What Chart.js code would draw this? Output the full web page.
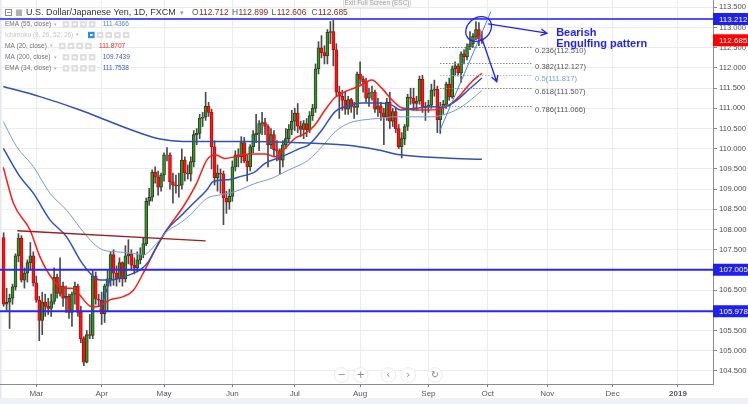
<!DOCTYPE html>
<html>
<head>
<meta charset="utf-8">
<title>USD/JPY 1D</title>
<script src="https://cdn.jsdelivr.net/npm/chart.js"></script>
<style>
  html, body { margin: 0; padding: 0; background: #fff; }
  canvas { display: block; }
</style>
</head>
<body>
<canvas id="chart" width="748" height="404"></canvas>
<script>
"use strict";

// bar index 0 = 1 Mar 2018, first visible candle is 14 Feb 2018
const firstBar = -11;

const opens = [
  107.80, 106.15, 106.20, 106.30, 106.58, 107.35, 107.79, 106.75, 106.92, 107.18,
  107.35, 106.68, 106.25, 105.75, 106.20, 106.10, 106.05, 106.22, 106.82, 106.42,
  106.60, 106.30, 106.35, 105.95, 106.40, 106.60, 105.95, 105.30, 104.72, 105.40,
  105.38, 106.85, 106.28, 106.25, 105.92, 106.60, 106.78, 107.38, 106.92, 106.78,
  107.18, 106.78, 107.35, 107.40, 107.12, 107.05, 107.25, 107.38, 107.65, 108.70,
  108.80, 109.42, 109.30, 109.05, 109.35, 109.85, 109.85, 109.18, 109.10, 109.08,
  109.10, 109.72, 109.40, 109.38, 109.68, 110.35, 110.38, 110.76, 110.78, 111.05,
  110.90, 110.05, 109.28, 109.40, 109.38, 108.78, 108.68, 108.82, 109.55, 109.85,
  109.80, 110.15, 109.70, 109.55, 110.05, 110.35, 110.38, 110.62, 110.65, 110.55,
  110.10, 110.35, 109.98, 109.95, 109.72, 110.10, 110.25, 110.48, 110.68, 110.88,
  110.56, 110.48, 110.62, 110.47, 110.82, 111.00, 111.98, 112.50, 112.38, 112.30,
  112.88, 112.90, 112.45, 111.40, 111.30, 111.20, 110.98, 111.22, 111.05, 111.02,
  111.85, 111.72, 111.66, 111.25, 111.38, 111.40, 110.98, 111.06, 110.88, 110.78,
  111.15, 110.68, 110.92, 110.50, 110.05, 110.25, 110.55, 111.28, 111.25, 111.12,
  111.18, 111.72, 111.02, 111.05, 111.08, 111.45, 111.48, 110.72, 111.02, 111.10,
  111.60, 111.28, 111.98, 112.05, 111.88, 112.35, 112.28, 112.52, 112.60, 112.78,
  112.95, 112.712
];
const highs = [
  107.92, 106.55, 106.40, 106.65, 107.40, 107.90, 107.85, 107.05, 107.25, 107.68,
  107.45, 106.85, 106.35, 106.45, 106.40, 106.30, 106.40, 107.05, 106.90, 107.30,
  106.70, 106.60, 106.40, 106.45, 106.70, 106.65, 106.10, 105.35, 105.50, 105.90,
  107.00, 106.95, 106.40, 106.45, 106.65, 107.00, 107.45, 107.50, 107.10, 107.30,
  107.20, 107.60, 107.75, 107.50, 107.30, 107.45, 107.55, 107.80, 108.78, 109.02,
  109.48, 109.55, 109.45, 109.40, 109.90, 110.03, 109.90, 109.40, 109.35, 109.40,
  110.00, 109.80, 109.60, 109.80, 110.45, 110.50, 110.85, 110.90, 111.40, 111.15,
  110.98, 110.20, 109.60, 109.50, 109.45, 108.95, 109.00, 109.70, 109.95, 110.00,
  110.30, 110.28, 109.85, 110.10, 110.45, 110.85, 110.70, 110.90, 110.75, 110.60,
  110.50, 110.45, 110.20, 110.00, 110.20, 110.50, 110.60, 110.95, 111.00, 111.12,
  110.68, 110.70, 110.75, 110.92, 111.10, 112.10, 112.65, 112.80, 112.55, 112.95,
  113.15, 113.18, 112.60, 111.55, 111.45, 111.40, 111.30, 111.25, 111.15, 111.90,
  112.15, 111.80, 111.75, 111.50, 111.55, 111.45, 111.25, 111.15, 111.00, 111.25,
  111.40, 111.00, 111.00, 110.60, 110.40, 110.60, 111.35, 111.50, 111.50, 111.30,
  111.80, 111.82, 111.15, 111.20, 111.60, 111.70, 111.55, 111.15, 111.20, 111.65,
  111.75, 112.05, 112.15, 112.10, 112.40, 112.45, 112.60, 112.90, 112.85, 113.15,
  113.12, 112.899
];
const lows = [
  106.10, 106.00, 105.55, 106.15, 106.50, 107.20, 106.70, 106.55, 106.70, 107.00,
  106.60, 106.20, 105.25, 105.40, 105.85, 105.90, 105.85, 106.15, 106.30, 106.35,
  106.10, 105.95, 105.80, 105.60, 106.15, 105.85, 105.20, 104.63, 104.70, 105.30,
  105.30, 106.15, 106.10, 105.65, 105.70, 105.98, 106.60, 106.62, 106.60, 106.70,
  106.60, 106.70, 107.15, 107.00, 106.90, 106.95, 107.15, 107.30, 107.60, 108.60,
  108.70, 109.15, 108.85, 108.95, 109.20, 109.70, 109.00, 108.65, 108.90, 108.80,
  109.00, 109.20, 109.25, 109.20, 109.55, 110.10, 110.25, 110.55, 110.70, 110.80,
  109.50, 109.10, 108.95, 108.90, 108.12, 108.40, 108.50, 108.70, 109.45, 109.55,
  109.65, 109.65, 109.20, 109.45, 109.90, 110.15, 109.95, 110.35, 110.35, 109.55,
  110.00, 109.80, 109.70, 109.37, 109.55, 110.00, 110.15, 110.35, 110.45, 110.40,
  110.30, 110.25, 110.30, 110.40, 110.70, 110.90, 111.85, 112.25, 112.10, 112.10,
  112.60, 112.05, 111.30, 110.75, 110.95, 110.85, 110.85, 110.90, 110.75, 110.85,
  111.60, 111.40, 111.15, 111.05, 111.20, 110.90, 110.80, 110.70, 110.10, 110.70,
  110.50, 110.55, 110.40, 110.00, 109.77, 110.10, 110.45, 111.10, 110.95, 110.95,
  111.10, 110.90, 110.70, 110.90, 111.00, 111.30, 110.40, 110.38, 110.85, 111.00,
  111.20, 111.25, 111.80, 111.80, 111.65, 112.10, 112.20, 112.45, 112.50, 112.70,
  112.55, 112.606
];
const closes = [
  106.15, 106.20, 106.30, 106.58, 107.35, 107.79, 106.75, 106.92, 107.18, 107.35,
  106.68, 106.25, 105.75, 106.20, 106.10, 106.05, 106.22, 106.82, 106.42, 106.60,
  106.30, 106.35, 105.95, 106.40, 106.60, 105.95, 105.30, 104.72, 105.40, 105.38,
  106.85, 106.28, 106.25, 105.92, 106.60, 106.78, 107.38, 106.92, 106.78, 107.18,
  106.78, 107.35, 107.40, 107.12, 107.05, 107.25, 107.38, 107.65, 108.70, 108.80,
  109.42, 109.30, 109.05, 109.35, 109.85, 109.85, 109.18, 109.10, 109.08, 109.10,
  109.72, 109.40, 109.38, 109.68, 110.35, 110.38, 110.76, 110.78, 111.05, 110.90,
  110.05, 109.28, 109.40, 109.38, 108.78, 108.68, 108.82, 109.55, 109.85, 109.80,
  110.15, 109.70, 109.55, 110.05, 110.35, 110.38, 110.62, 110.65, 110.55, 110.10,
  110.35, 109.98, 109.95, 109.72, 110.10, 110.25, 110.48, 110.68, 110.88, 110.56,
  110.48, 110.62, 110.47, 110.82, 111.00, 111.98, 112.50, 112.38, 112.30, 112.88,
  112.90, 112.45, 111.40, 111.30, 111.20, 110.98, 111.22, 111.05, 111.02, 111.85,
  111.72, 111.66, 111.25, 111.38, 111.40, 110.98, 111.06, 110.88, 110.78, 111.15,
  110.68, 110.92, 110.50, 110.05, 110.25, 110.55, 111.28, 111.25, 111.12, 111.18,
  111.72, 111.02, 111.05, 111.08, 111.45, 111.48, 110.72, 111.02, 111.10, 111.60,
  111.28, 111.98, 112.05, 111.88, 112.35, 112.28, 112.52, 112.60, 112.78, 112.95,
  112.72, 112.685
];

// moving averages (bar index, value)
const ma20Bars = [-11.1, -7.7, -2.1, 1.2, 5.7, 9.1, 11.9, 14.1, 18.7, 21.4, 24.8, 29.3, 32.7, 36.0, 39.4, 43.9,
  49.5, 54.0, 57.4, 60.2, 63.5, 66.9, 71.4, 77.0, 80.4, 83.7, 87.1, 90.5, 93.8, 97.2, 100.6, 103.9,
  108.4, 112.9, 116.3, 119.7, 122.5, 124.1, 127.5, 132.0, 136.5, 139.9, 143.2, 146.6, 150.0];
const ma20Values = [109.54, 108.65, 107.99, 107.33, 106.75, 106.55, 106.55, 106.42, 106.09, 106.11, 106.26, 106.34, 106.50, 106.92, 107.41, 107.99,
  108.57, 109.15, 109.72, 109.85, 109.76, 109.80, 109.87, 109.87, 109.80, 110.01, 110.26, 110.38, 110.59, 110.96, 111.27, 111.41,
  111.54, 111.70, 111.50, 111.21, 111.03, 111.00, 110.96, 110.96, 111.00, 111.13, 111.37, 111.66, 111.87];

const ema34Bars = [-11.1, -5.5, -1.0, 4.6, 10.2, 14.7, 18.1, 21.4, 24.8, 29.3, 34.9, 37.7, 40.5, 43.9, 48.4, 52.9,
  57.4, 59.6, 64.1, 68.6, 73.6, 77.0, 82.6, 88.8, 91.6, 96.1, 100.6, 103.9, 109.6, 115.2, 119.7, 122.5,
  127.5, 133.1, 137.6, 141.0, 145.5, 150.0];
const ema34Values = [110.01, 109.31, 108.90, 108.24, 107.82, 107.25, 106.92, 106.75, 106.75, 106.83, 107.00, 107.20, 107.58, 107.99, 108.32, 108.65,
  108.98, 109.19, 109.23, 109.31, 109.43, 109.64, 109.80, 110.01, 110.09, 110.46, 110.92, 111.04, 111.13, 111.13, 111.08, 110.96,
  111.00, 111.04, 111.04, 111.17, 111.46, 111.75];

const ema55Bars = [-11.1, -6.6, -1.0, 4.6, 10.2, 15.3, 19.2, 22.6, 27.1, 32.7, 36.0, 40.5, 43.9, 48.4, 51.8, 57.4,
  61.9, 66.9, 73.6, 79.3, 84.8, 88.8, 91.6, 96.1, 100.6, 105.1, 109.6, 115.2, 120.8, 127.5, 133.1, 138.7,
  143.2, 150.0];
const ema55Values = [110.67, 110.05, 109.56, 108.90, 108.48, 107.99, 107.66, 107.49, 107.45, 107.41, 107.37, 107.66, 107.95, 108.16, 108.36, 108.77,
  108.86, 108.94, 109.14, 109.27, 109.47, 109.60, 109.72, 110.05, 110.42, 110.63, 110.71, 110.75, 110.79, 110.79, 110.79, 110.88,
  111.04, 111.44];

const ma200Bars = [-11.1, 1.2, 14.7, 24.8, 34.9, 41.6, 49.4, 70.8, 88.8, 103.9, 115.1, 122.5, 137.6, 150.0];
const ma200Values = [111.54, 111.29, 110.96, 110.67, 110.39, 110.24, 110.18, 110.18, 110.15, 110.09, 109.97, 109.85, 109.77, 109.74];

const monthBars = [0, 22, 43, 66, 87, 109, 132, 152, 172, 194, 216];
const monthLabels = ['Mar', 'Apr', 'May', 'Jun', 'Jul', 'Aug', 'Sep', 'Oct', 'Nov', 'Dec', '2019'];
const priceTicks = [104.5, 105, 105.5, 106, 106.5, 107, 107.5, 108, 108.5, 109, 109.5,
  110, 110.5, 111, 111.5, 112, 112.5, 113, 113.5];

const levels = [113.212, 107.005, 105.978];
const fibRatios = ['0.236', '0.382', '0.5', '0.618', '0.786'];
const fibPrices = [112.510, 112.127, 111.817, 111.507, 111.066];

const FONT = '"Liberation Sans", Arial, sans-serif';

const barIndex = closes.map((_, i) => firstBar + i);
const isUp = closes.map((c, i) => c >= opens[i]);

const toPoints = (bars, values) => bars.map((x, i) => ({ x, y: values[i] }));

const maLine = (label, bars, values, color, width) => ({
  type: 'line',
  label,
  data: toPoints(bars, values),
  borderColor: color,
  borderWidth: width,
  pointRadius: 0,
  cubicInterpolationMode: 'monotone',
  order: 0
});

function drawArrow(ctx, x1, y1, x2, y2) {
  const a = Math.atan2(y2 - y1, x2 - x1);
  const len = 7;
  ctx.beginPath();
  ctx.moveTo(x1, y1);
  ctx.lineTo(x2, y2);
  ctx.moveTo(x2 - len * Math.cos(a - 0.5), y2 - len * Math.sin(a - 0.5));
  ctx.lineTo(x2, y2);
  ctx.lineTo(x2 - len * Math.cos(a + 0.5), y2 - len * Math.sin(a + 0.5));
  ctx.stroke();
}

function iconBoxes(ctx, x, y, n, highlight) {
  for (let i = 0; i < n; i++) {
    const bx = x + i * 8.7;
    ctx.fillStyle = (highlight && i === 0) ? '#2e8de8' : '#dedede';
    ctx.fillRect(bx, y - 3.2, 6.6, 6.4);
    ctx.fillStyle = '#ffffff';
    ctx.fillRect(bx + 2, y - 1, 2.6, 2);
  }
}

const overlay = {
  id: 'overlay',
  beforeDraw(chart) {
    const { ctx, width, height } = chart;
    ctx.save();
    ctx.fillStyle = '#ffffff';
    ctx.fillRect(0, 0, width, height);
    ctx.fillStyle = '#eef1f6';
    ctx.fillRect(0, 398, width, height - 398);
    ctx.fillStyle = '#e3e7ee';
    ctx.fillRect(0, 0, 1.5, 398);
    ctx.restore();
  },

  afterDatasetsDraw(chart) {
    const { ctx, chartArea } = chart;
    const px = v => chart.scales.x.getPixelForValue(v);
    const py = v => chart.scales.y.getPixelForValue(v);
    ctx.save();

    // support / resistance levels
    levels.forEach((v, i) => {
      ctx.strokeStyle = i === 0 ? '#5252ff' : '#2626ff';
      ctx.lineWidth = 2;
      ctx.beginPath();
      ctx.moveTo(chartArea.left, py(v));
      ctx.lineTo(chartArea.right, py(v));
      ctx.stroke();
    });

    // old trend line
    ctx.strokeStyle = '#9a1f1f';
    ctx.lineWidth = 1.4;
    ctx.beginPath();
    ctx.moveTo(px(-6.4), py(107.97));
    ctx.lineTo(px(57.0), py(107.72));
    ctx.stroke();

    ctx.strokeStyle = '#2a4fd6';
    ctx.lineWidth = 1.2;
    ctx.beginPath();
    ctx.moveTo(px(21.4), py(106.01));
    ctx.lineTo(px(24.8), py(106.75));
    ctx.stroke();

    // fibonacci retracement
    ctx.font = '7.6px ' + FONT;
    ctx.textBaseline = 'middle';
    ctx.textAlign = 'left';
    fibPrices.forEach((v, i) => {
      const mid = fibRatios[i] === '0.5';
      ctx.strokeStyle = mid ? '#9dbbf0' : '#8a8a8a';
      ctx.lineWidth = 1;
      ctx.setLineDash([1.5, 1.5]);
      ctx.beginPath();
      ctx.moveTo(px(135.9), Math.round(py(v)) + 0.5);
      ctx.lineTo(px(166.8), Math.round(py(v)) + 0.5);
      ctx.stroke();
      ctx.setLineDash([]);
      ctx.fillStyle = mid ? '#6f9de6' : '#555555';
      ctx.fillText(fibRatios[i] + '(' + v.toFixed(3) + ')', px(167.9), py(v) + 4);
    });

    // up trend line
    ctx.strokeStyle = '#3f82ea';
    ctx.lineWidth = 1;
    ctx.beginPath();
    ctx.moveTo(px(135.8), py(110.44));
    ctx.lineTo(px(153.0), py(113.39));
    ctx.stroke();

    // pattern marker
    ctx.strokeStyle = '#1f1fff';
    ctx.lineWidth = 1.3;
    ctx.beginPath();
    ctx.ellipse(px(148.9), py(112.965), 14, 11, -0.7, 0, Math.PI * 2);
    ctx.stroke();
    drawArrow(ctx, px(152.1), py(113.09), px(171.9), py(112.86));
    drawArrow(ctx, px(150.0), py(112.73), px(155.0), py(111.66));

    ctx.fillStyle = '#1f1fff';
    ctx.font = 'bold 11px ' + FONT;
    ctx.textBaseline = 'middle';
    ctx.fillText('Bearish', px(175.0), py(112.87));
    ctx.fillText('Engulfing pattern', px(175.0), py(112.59));
    ctx.restore();
  },

  afterDraw(chart) {
    const { ctx, chartArea } = chart;
    const py = v => chart.scales.y.getPixelForValue(v);
    ctx.save();

    // price boxes on the axis
    const boxes = [[levels[0], '#1f1ff0'], [closes[closes.length - 1], '#ff0000'], [levels[1], '#1f1ff0'], [levels[2], '#1f1ff0']];
    ctx.font = '8px ' + FONT;
    ctx.textBaseline = 'middle';
    ctx.textAlign = 'left';
    boxes.forEach(([v, color]) => {
      const y = py(v);
      ctx.fillStyle = color;
      ctx.fillRect(chartArea.right, y - 6, 748 - chartArea.right, 12);
      ctx.fillStyle = '#ffffff';
      ctx.fillText(v.toFixed(3), chartArea.right + 6, y + 0.5);
    });

    // header
    ctx.strokeStyle = '#8a8a8a';
    ctx.lineWidth = 1;
    ctx.strokeRect(5.5, 9.5, 6, 6);
    ctx.beginPath();
    ctx.moveTo(7, 12.5);
    ctx.lineTo(10.5, 12.5);
    ctx.stroke();
    ctx.fillStyle = '#b0b0b0';
    ctx.fillRect(16, 9.5, 6, 6.5);

    ctx.font = '9px ' + FONT;
    ctx.fillStyle = '#333333';
    ctx.fillText('U.S. Dollar/Japanese Yen, 1D, FXCM', 26, 13);
    ctx.fillStyle = '#999999';
    ctx.font = '7px ' + FONT;
    ctx.fillText('\u25BE', 180, 13);

    ctx.font = '8.4px ' + FONT;
    const ohlc = [['O', '112.712', 192], ['H', '112.899', 232], ['L', '112.606', 271.5], ['C', '112.685', 311.5]];
    ohlc.forEach(([k, v, x]) => {
      ctx.fillStyle = '#555555';
      ctx.fillText(k, x, 13);
      ctx.fillStyle = '#8b2525';
      ctx.fillText(v, x + ctx.measureText(k).width + 0.5, 13);
    });

    // indicator legend
    const rows = [
      ['EMA (55, close)', 24.3, 62.7, 4, '111.4366', '#5b82d2', '#707070'],
      ['Ichimoku (9, 26, 52, 26)', 35, 88, 5, '', '', '#c6c6c6'],
      ['MA (20, close)', 46, 59, 4, '111.8707', '#ff1a1a', '#707070'],
      ['MA (200, close)', 57.3, 62.7, 4, '109.7439', '#3a5bb3', '#707070'],
      ['EMA (34, close)', 68.3, 62.7, 4, '111.7538', '#3a5bb3', '#707070']
    ];
    rows.forEach(([name, y, bx, n, val, vc, nc], i) => {
      ctx.font = '6.5px ' + FONT;
      ctx.fillStyle = nc;
      ctx.fillText(name, 5, y);
      const w = ctx.measureText(name).width;
      ctx.fillStyle = '#b5b5b5';
      ctx.font = '5px ' + FONT;
      ctx.fillText('\u25BE', 5 + w + 3, y);
      iconBoxes(ctx, bx, y, n, i === 1);
      if (val) {
        ctx.font = '6.5px ' + FONT;
        ctx.fillStyle = vc;
        ctx.fillText(val, bx + 40, y);
      }
    });

    // exit full screen hint
    ctx.fillStyle = '#f5f5f5';
    ctx.strokeStyle = '#dcdcdc';
    ctx.beginPath();
    ctx.roundRect(343.5, -3.5, 67, 11.5, 3);
    ctx.fill();
    ctx.stroke();
    ctx.fillStyle = '#a3a3a3';
    ctx.font = '6.5px ' + FONT;
    ctx.textAlign = 'center';
    ctx.fillText('Exit Full Screen (ESC)', 377, 3.5);

    // navigation buttons
    const buttons = [[341.7, '\u2212'], [360.7, '+'], [388.3, '\u2039'], [408.3, '\u203A'], [435, '\u21BB']];
    buttons.forEach(([x, g]) => {
      ctx.beginPath();
      ctx.arc(x, 375, 7.3, 0, Math.PI * 2);
      ctx.fillStyle = '#ffffff';
      ctx.fill();
      ctx.strokeStyle = '#ececec';
      ctx.stroke();
      ctx.fillStyle = '#8a8a8a';
      ctx.font = '10px "DejaVu Sans", sans-serif';
      ctx.fillText(g, x, 375.5);
    });
    ctx.restore();
  }
};

new Chart(document.getElementById('chart'), {
  type: 'bar',
  data: {
    datasets: [
      maLine('MA 200', ma200Bars, ma200Values, '#3152ad', 1.5),
      maLine('EMA 55', ema55Bars, ema55Values, '#7d98d8', 1),
      maLine('EMA 34', ema34Bars, ema34Values, '#2f50bf', 1.5),
      maLine('MA 20', ma20Bars, ma20Values, '#ff1a1a', 1.5),
      {
        label: 'wick',
        data: barIndex.map((x, i) => ({ x, y: [lows[i], highs[i]] })),
        backgroundColor: '#4a4a4a',
        barThickness: 1,
        grouped: false,
        order: 3
      },
      {
        label: 'body',
        data: barIndex.map((x, i) => ({ x, y: [opens[i], closes[i]] })),
        backgroundColor: isUp.map(u => u ? '#3f8f30' : '#ff1414'),
        borderColor: isUp.map(u => u ? '#1d4a14' : '#d40000'),
        borderWidth: 1,
        borderSkipped: false,
        barThickness: 3,
        grouped: false,
        order: 2
      }
    ]
  },
  options: {
    responsive: false,
    animation: false,
    layout: { padding: 0 },
    plugins: {
      legend: { display: false },
      tooltip: { enabled: false }
    },
    scales: {
      x: {
        type: 'linear',
        min: -12.22,
        max: 227.8,
        offset: false,
        grid: { offset: false, color: '#ececec', tickLength: 3, tickColor: '#777777' },
        border: { color: '#8c8c8c' },
        ticks: {
          autoSkip: false,
          maxRotation: 0,
          padding: 2,
          color: '#555555',
          font: c => ({ size: 8, family: FONT, weight: c.index === monthLabels.length - 1 ? 'bold' : 'normal' }),
          callback: (v, i) => monthLabels[i]
        },
        afterBuildTicks: s => { s.ticks = monthBars.map(v => ({ value: v })); },
        afterFit: s => { s.height = 20; s.paddingLeft = 0; s.paddingRight = 0; }
      },
      y: {
        position: 'right',
        min: 104.177,
        max: 113.682,
        grid: { color: '#ececec', tickLength: 4, tickColor: '#8c8c8c' },
        border: { color: '#8c8c8c' },
        ticks: {
          padding: 2,
          color: '#4d4d4d',
          font: { size: 7.6, family: FONT },
          callback: v => v.toFixed(3)
        },
        afterBuildTicks: s => { s.ticks = priceTicks.map(v => ({ value: v })); },
        afterFit: s => { s.width = 35; s.paddingTop = 0; s.paddingBottom = 0; }
      }
    }
  },
  plugins: [overlay]
});
</script>
</body>
</html>
